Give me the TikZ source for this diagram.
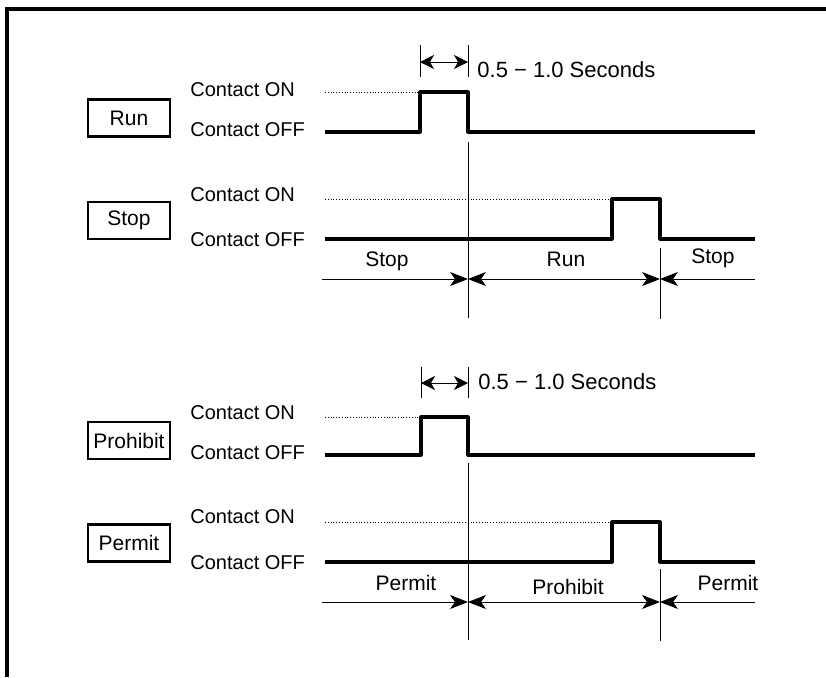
\documentclass[tikz,border=0pt]{standalone}
\usepackage{fontspec}
\setmainfont{Liberation Sans}
\usetikzlibrary{arrows.meta,positioning,calc}

\begin{document}
\begin{tikzpicture}[x=0.5pt, y=-0.5pt, font=\fontsize{10}{12}\selectfont,
  >={Stealth[length=9pt,width=7pt,inset=2.5pt]},
  sig/.style={line width=1.6pt, line join=round},
  lvl/.style={densely dotted, line width=0.4pt},
  thinline/.style={line width=0.5pt},
  dimarr/.style={line width=0.5pt, {Stealth[length=7pt,width=7pt,inset=2pt]}-{Stealth[length=7pt,width=7pt,inset=2pt]}},
  inbox/.style={draw, line width=1.2pt, minimum width=41pt, minimum height=18.5pt, inner sep=1pt,
    font=\fontsize{10.5}{12}\selectfont},
  lbl/.style={anchor=west, inner sep=0pt},
  span/.style={inner sep=0pt, font=\fontsize{10.5}{12}\selectfont},
  secs/.style={anchor=west, inner sep=0pt, font=\fontsize{11}{13}\selectfont}]
  \useasboundingbox (0,0) rectangle (826,677);
  % Frame
  \draw[line width=2pt] (7,677) -- (7,9) -- (826,9);

  % Run input
  \node[inbox] (run) at (129,118) {Run};
  \node[lbl] (runon) at (190,90) {Contact ON};
  \node[lbl] (runoff) at (190,129.5) {Contact OFF};
  \coordinate (runA) at (420,92);
  \coordinate (runB) at (468,92);
  \draw[lvl] (325,92) -- (runA);
  \draw[sig] (325,132) -| (runA) -- (runB) |- (755,132);
  % Run pulse width
  \coordinate (runT1) at (420,45);
  \coordinate (runT2) at (468,45);
  \draw[thinline] (runT1) -- ++(0,32) (runT2) -- ++(0,32);
  \draw[dimarr] ($(runT1)+(0,17)$) -- ($(runT2)+(0,17)$);
  \node[secs] (runtime) at (477,70) {0.5 − 1.0 Seconds};

  % Stop input
  \node[inbox] (stop) at (129,220.5) {Stop};
  \node[lbl] (stopon) at (190,195) {Contact ON};
  \node[lbl] (stopoff) at (190,240) {Contact OFF};
  \coordinate (stopA) at (612,199);
  \coordinate (stopB) at (660,199);
  \draw[lvl] (325,199) -- (stopA);
  \draw[sig] (325,239) -| (stopA) -- (stopB) |- (755,239);

  % Run / stop spans
  \coordinate (rsA) at (322,279);
  \coordinate (rsB) at (468,279);
  \coordinate (rsC) at (660,279);
  \coordinate (rsD) at (755,279);
  \draw[thinline] (468,142) -- (468,318);
  \draw[thinline] (660,248) -- (660,319);
  \draw[thinline,->] (rsA) -- (rsB);
  \draw[thinline,<->] (rsB) -- (rsC);
  \draw[thinline,<-] (rsC) -- (rsD);
  \node[span] (spstop1) at (387,261) {Stop};
  \node[span] (sprun) at (566,259) {Run};
  \node[span] (spstop2) at (713,258) {Stop};

  % Prohibit input
  \node[inbox] (prohibit) at (129,440.5) {Prohibit};
  \node[lbl] (proon) at (190,412.5) {Contact ON};
  \node[lbl] (prooff) at (190,453) {Contact OFF};
  \coordinate (proA) at (421,417);
  \coordinate (proB) at (468,417);
  \draw[lvl] (325,417) -- (proA);
  \draw[sig] (325,455) -| (proA) -- (proB) |- (755,455);
  % Prohibit pulse width
  \coordinate (proT1) at (421,367);
  \coordinate (proT2) at (468,367);
  \draw[thinline] (proT1) -- ++(0,31) (proT2) -- ++(0,31);
  \draw[dimarr] ($(proT1)+(0,16)$) -- ($(proT2)+(0,16)$);
  \node[secs] (protime) at (478,382) {0.5 − 1.0 Seconds};

  % Permit input
  \node[inbox] (permit) at (129,543) {Permit};
  \node[lbl] (peron) at (190,517) {Contact ON};
  \node[lbl] (peroff) at (190,563) {Contact OFF};
  \coordinate (perA) at (612,522);
  \coordinate (perB) at (660,522);
  \draw[lvl] (325,522) -- (perA);
  \draw[sig] (325,562) -| (perA) -- (perB) |- (755,562);

  % Permit / prohibit spans
  \coordinate (ppA) at (322,602);
  \coordinate (ppB) at (468,602);
  \coordinate (ppC) at (660,602);
  \coordinate (ppD) at (755,602);
  \draw[thinline] (468,463) -- (468,640);
  \draw[thinline] (660,569) -- (660,641);
  \draw[thinline,->] (ppA) -- (ppB);
  \draw[thinline,<->] (ppB) -- (ppC);
  \draw[thinline,<-] (ppC) -- (ppD);
  \node[span] (sppermit1) at (406,583) {Permit};
  \node[span] (spprohibit) at (568,587) {Prohibit};
  \node[span] (sppermit2) at (728,583) {Permit};
\end{tikzpicture}
\end{document}
